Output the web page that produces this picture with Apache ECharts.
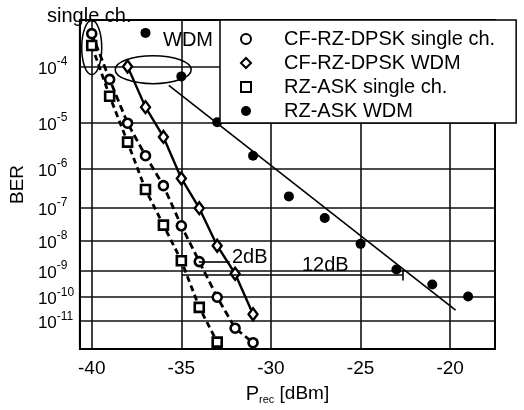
<!DOCTYPE html>
<html>
<head>
<meta charset="utf-8">
<script src="https://cdn.jsdelivr.net/npm/echarts@6/dist/echarts.min.js"></script>
<style>
  html, body { margin: 0; padding: 0; background: #fff; }
  #chart { width: 524px; height: 410px; }
</style>
</head>
<body>
<div id="chart"></div>
<script>
// received power in dBm, and q where BER = 10^-q
const dpskSinglePrec = [-40, -39, -38, -37, -36, -35, -34, -33, -32, -31]
const dpskSingleQ = [3.51, 4.21, 5.01, 5.70, 6.42, 7.53, 8.68, 10.0, 11.31, 11.98]
const dpskWdmPrec = [-38, -37, -36, -35, -34, -33, -32, -31]
const dpskWdmQ = [4.0, 4.70, 5.29, 6.24, 7.02, 8.15, 9.11, 10.70]
const askSinglePrec = [-40, -39, -38, -37, -36, -35, -34, -33]
const askSingleQ = [3.68, 4.50, 5.40, 6.52, 7.51, 8.65, 10.41, 11.95]
const askWdmPrec = [-37, -35, -33, -31, -29, -27, -25, -23, -21, -19]
const askWdmQ = [3.50, 4.16, 4.99, 5.70, 6.70, 7.30, 8.09, 8.96, 9.51, 9.97]
const askWdmFitPrec = [-35.7, -19.7]
const askWdmFitQ = [4.31, 10.53]

// penalty arrows: [x1, x2, q]
const arrow2dB = [-34.02, -32.3, 8.68]
const arrow12dB = [-34.96, -22.66, 9.14]

const xTicks = [-40, -35, -30, -25, -20]
const berTicks = [4, 5, 6, 7, 8, 9, 10, 11]

const font = 'Liberation Sans, Arial, sans-serif'
const lg = Math.log10
const pts = (xs, qs) => xs.map((x, i) => [x, lg(qs[i])])

const chart = echarts.init(document.getElementById('chart'))

const option = {
  animation: false,
  grid: {
    left: 77, right: 29, top: 20, bottom: 58,
    show: true, borderColor: '#000', borderWidth: 2
  },
  xAxis: {
    type: 'value',
    min: -40.66,
    max: -17.5,
    name: '{p|P}{r|rec}{d| [dBm]}',
    nameLocation: 'middle',
    nameGap: 34,
    nameTextStyle: {
      rich: {
        p: { fontSize: 20, fontFamily: font, color: '#000', lineHeight: 22 },
        r: { fontSize: 11, fontFamily: font, color: '#000', lineHeight: 22, verticalAlign: 'bottom' },
        d: { fontSize: 19, fontFamily: font, color: '#000', lineHeight: 22 }
      }
    },
    axisLine: { show: true, lineStyle: { color: '#000', width: 2 } },
    axisTick: { show: false, customValues: xTicks },
    axisLabel: {
      customValues: xTicks,
      fontSize: 19, fontFamily: font, color: '#000', margin: 10
    },
    splitLine: { show: true, lineStyle: { color: '#111', width: 1.6 } }
  },
  yAxis: {
    type: 'value',
    inverse: true,
    min: 0.5218,
    max: 1.0893,
    name: 'BER',
    nameLocation: 'middle',
    nameRotate: 90,
    nameGap: 46,
    nameTextStyle: { fontSize: 19, fontFamily: font, color: '#000' },
    axisLine: { show: true, lineStyle: { color: '#000', width: 2 } },
    axisTick: { show: false, customValues: berTicks.map(lg) },
    axisLabel: {
      customValues: berTicks.map(lg),
      align: 'left',
      margin: 42,
      formatter: v => '{b|10}{s|-' + Math.round(Math.pow(10, v)) + '}',
      rich: {
        b: { fontSize: 17, fontFamily: font, color: '#000', lineHeight: 22, verticalAlign: 'bottom' },
        s: { fontSize: 12, fontFamily: font, color: '#000', lineHeight: 12, verticalAlign: 'top' }
      }
    },
    splitLine: { show: true, lineStyle: { color: '#111', width: 1.6 } }
  },
  legend: {
    orient: 'vertical',
    left: 220,
    top: 20,
    padding: [9, 21, 2, 20],
    itemWidth: 10,
    itemHeight: 10,
    itemGap: 4,
    backgroundColor: '#fff',
    borderColor: '#000',
    borderWidth: 1.5,
    borderRadius: 0,
    textStyle: { fontSize: 20, fontFamily: font, color: '#000', lineHeight: 20, padding: [0, 0, 0, 28] },
    data: [
      { name: 'CF-RZ-DPSK single ch.', icon: 'circle' },
      { name: 'CF-RZ-DPSK WDM', icon: 'diamond' },
      { name: 'RZ-ASK single ch.', icon: 'rect' },
      { name: 'RZ-ASK WDM', icon: 'circle' }
    ]
  },
  series: [
    {
      name: 'CF-RZ-DPSK single ch.',
      type: 'line',
      data: pts(dpskSinglePrec, dpskSingleQ),
      symbol: 'circle',
      symbolSize: 9,
      itemStyle: { color: '#fff', borderColor: '#000', borderWidth: 2.6 },
      lineStyle: { color: '#000', width: 2.8, type: [7, 4] }
    },
    {
      name: 'CF-RZ-DPSK WDM',
      type: 'line',
      data: pts(dpskWdmPrec, dpskWdmQ),
      symbol: 'diamond',
      symbolSize: [9, 12],
      itemStyle: { color: '#fff', borderColor: '#000', borderWidth: 2.4 },
      lineStyle: { color: '#000', width: 2.4 }
    },
    {
      name: 'RZ-ASK single ch.',
      type: 'line',
      data: pts(askSinglePrec, askSingleQ),
      symbol: 'rect',
      symbolSize: 9,
      itemStyle: { color: '#fff', borderColor: '#000', borderWidth: 2.6 },
      lineStyle: { color: '#000', width: 2.8, type: [6, 4] }
    },
    {
      name: 'RZ-ASK WDM',
      type: 'scatter',
      data: pts(askWdmPrec, askWdmQ),
      symbol: 'circle',
      symbolSize: 10,
      itemStyle: { color: '#000', opacity: 1 }
    },
    {
      name: 'fit',
      type: 'line',
      data: pts(askWdmFitPrec, askWdmFitQ),
      symbol: 'none',
      lineStyle: { color: '#000', width: 1.6 },
      markLine: {
        silent: true,
        symbol: ['none', 'none'],
        label: { show: false },
        lineStyle: { color: '#000', width: 1.6, type: 'solid' },
        data: [
          [{ coord: [arrow2dB[0], lg(arrow2dB[2])] }, { coord: [arrow2dB[1], lg(arrow2dB[2])] }],
          [{ coord: [arrow12dB[0], lg(arrow12dB[2])] }, { coord: [arrow12dB[1], lg(arrow12dB[2])] }],
          [{ coord: [arrow12dB[1], lg(arrow12dB[2] - 0.18)] }, { coord: [arrow12dB[1], lg(arrow12dB[2] + 0.22)] }]
        ]
      }
    }
  ]
}

chart.setOption(option)

// annotation ellipses placed in data coordinates
const c1 = chart.convertToPixel({ gridIndex: 0 }, [-40.0, lg(3.71)])
const c2 = chart.convertToPixel({ gridIndex: 0 }, [-36.57, lg(4.05)])
const txt = (text, x, y) => ({
  type: 'text', left: x, top: y, z: 10,
  style: { text: text, fontSize: 20, fontFamily: font, fill: '#000' }
})
chart.setOption({
  graphic: [
    { type: 'ellipse', z: 10, shape: { cx: c1[0], cy: c1[1], rx: 10, ry: 27 }, style: { fill: 'none', stroke: '#000', lineWidth: 1.5 } },
    { type: 'ellipse', z: 10, shape: { cx: c2[0], cy: c2[1], rx: 38, ry: 14 }, style: { fill: 'none', stroke: '#000', lineWidth: 1.5 } },
    txt('single ch.', 47, 6),
    txt('WDM', 163, 30),
    txt('2dB', 232, 247),
    txt('12dB', 302, 255)
  ]
})

window.addEventListener('resize', () => chart.resize())
</script>
</body>
</html>
